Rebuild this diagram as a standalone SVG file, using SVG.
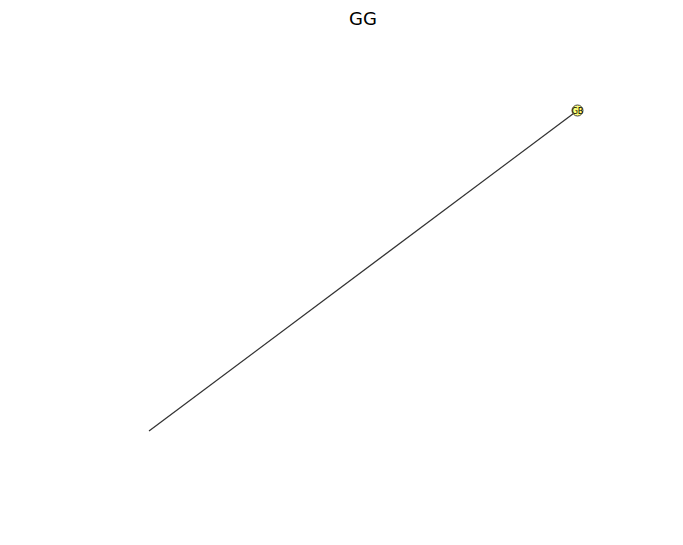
<svg xmlns="http://www.w3.org/2000/svg" width="683" height="545" viewBox="0 0 683 545">
<style>
.title{font-family:"DejaVu Sans",sans-serif;font-size:18px;fill:#000;text-anchor:middle}
.edge{stroke:#333;stroke-width:1.3;fill:none}
.node circle{fill:#ffff77;stroke:#444;stroke-width:1}
.node text{font-family:"DejaVu Sans",sans-serif;font-size:8px;fill:#000;text-anchor:middle}
</style>
<rect width="683" height="545" fill="#fff"/>
<text class="title" x="363" y="25">GG</text>
<g id="connectors">
<line class="edge" x1="149" y1="431" x2="577.5" y2="110.5"/>
</g>
<g id="node-GB" class="node">
<circle cx="577.5" cy="110.5" r="5.5"/>
<text x="577.5" y="113.5">GB</text>
</g>
</svg>
